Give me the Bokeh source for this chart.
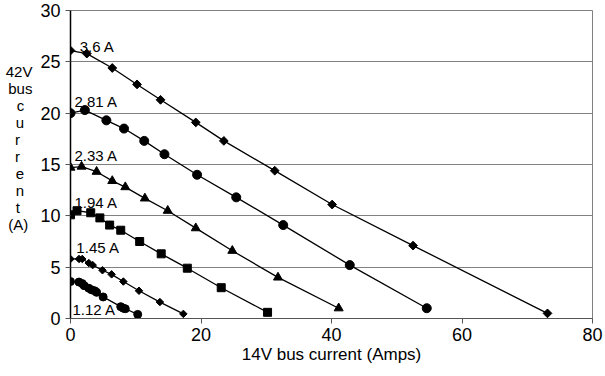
import math
from bokeh.plotting import figure
from bokeh.models import FixedTicker, ColumnDataSource
from bokeh.core.properties import value
from bokeh.embed import file_html
from bokeh.resources import INLINE

# ---- data ----
s36_x = [0, 2.5, 6.4, 10.2, 13.8, 19.2, 23.5, 31.3, 40.1, 52.5, 73.1]
s36_y = [26.1, 25.8, 24.4, 22.8, 21.3, 19.1, 17.3, 14.4, 11.1, 7.1, 0.5]

s281_x = [0, 2.2, 5.5, 8.2, 11.3, 14.4, 19.4, 25.4, 32.6, 42.8, 54.6]
s281_y = [20.0, 20.3, 19.3, 18.5, 17.3, 16.0, 14.0, 11.8, 9.1, 5.2, 1.0]

s233_x = [0, 1.7, 4.0, 6.4, 8.4, 11.4, 14.9, 19.2, 24.8, 31.8, 41.1]
s233_y = [14.7, 14.8, 14.3, 13.4, 12.8, 11.7, 10.5, 8.8, 6.6, 4.0, 1.0]

s194_x = [0, 1.0, 3.1, 4.5, 6.0, 7.7, 10.6, 13.9, 17.9, 23.1, 30.2]
s194_y = [10.1, 10.5, 10.3, 9.8, 9.1, 8.6, 7.5, 6.3, 4.9, 3.0, 0.6]

s145_x = [0, 1.3, 1.8, 2.8, 3.4, 4.9, 6.3, 8.1, 10.5, 13.7, 17.3]
s145_y = [5.8, 5.8, 5.8, 5.4, 5.2, 4.7, 4.3, 3.6, 2.7, 1.6, 0.45]

s112_x = [0, 1.3, 1.8, 2.1, 2.8, 3.2, 3.7, 4.0, 5.0, 7.7, 8.1, 8.4, 10.3]
s112_y = [3.6, 3.55, 3.4, 3.2, 2.95, 2.8, 2.7, 2.55, 2.1, 1.15, 1.0, 0.95, 0.4]

series_labels = ["3.6 A", "2.81 A", "2.33 A", "1.94 A", "1.45 A", "1.12 A"]
label_x = [1.4, 0.6, 0.6, 0.6, 0.9, 0.3]
label_y = [26.5, 21.1, 15.9, 11.3, 6.9, 0.9]

x_ticks = [0, 20, 40, 60, 80]
y_ticks = [0, 5, 10, 15, 20, 25, 30]
x_title = "14V bus current (Amps)"
y_title_lines = ["42V", "bus", "c", "u", "r", "r", "e", "n", "t", "(A)"]

FONT = "Liberation Sans"
H = 370

# approximate Arial advance widths (em) used only to centre the stacked title lines
_W = {"4": .556, "2": .556, "V": .667, "b": .556, "u": .556, "s": .5, "c": .5,
      "r": .333, "e": .556, "n": .556, "t": .278, "(": .333, "A": .667, ")": .333}
NBSP = "\u00a0"


def _pad(lines):
    # the left axis title is right-aligned by Bokeh, so pad on the right to centre
    widths = [sum(_W.get(ch, .556) for ch in s) for s in lines]
    wmax = max(widths)
    return [s + NBSP * int(round((wmax - w) / 2 / .278)) for s, w in zip(lines, widths)]


p = figure(width=604, height=H, x_range=(0, 80), y_range=(0, 30),
           output_backend="svg", toolbar_location=None,
           min_border_left=70, min_border_right=12, min_border_top=10, min_border_bottom=52)
p.background_fill_color = "white"
p.border_fill_color = "white"
p.outline_line_color = "#808080"
p.outline_line_width = 1

p.xgrid.grid_line_color = None
p.ygrid.grid_line_color = "#808080"
p.ygrid.grid_line_width = 1
p.ygrid.ticker = FixedTicker(ticks=y_ticks)

for ax in (p.xaxis[0], p.yaxis[0]):
    ax.major_label_text_font = FONT
    ax.major_label_text_font_size = "18px"
    ax.major_label_text_color = "black"
    ax.minor_tick_line_color = None
    ax.major_tick_in = 0
    ax.major_tick_out = 5

p.xaxis.ticker = FixedTicker(ticks=x_ticks)
p.yaxis.ticker = FixedTicker(ticks=y_ticks)
p.xaxis.axis_line_color = "#555555"
p.xaxis.major_tick_line_color = "#555555"
p.yaxis.axis_line_color = "black"
p.yaxis.axis_line_width = 1.5
p.yaxis.major_tick_line_color = "#555555"
p.yaxis.major_label_standoff = 5
p.xaxis.major_label_standoff = 4

p.xaxis.axis_label = x_title
p.xaxis.axis_label_text_font = FONT
p.xaxis.axis_label_text_font_size = "17px"
p.xaxis.axis_label_text_font_style = "normal"
p.xaxis.axis_label_text_color = "black"
p.xaxis.axis_label_standoff = 1

# stacked y-axis title (two trailing blank lines lift the block as in the reference)
p.yaxis.axis_label = "\n".join(_pad(y_title_lines) + [NBSP, NBSP])
p.yaxis.axis_label_orientation = "horizontal"
p.yaxis.axis_label_text_font = FONT
p.yaxis.axis_label_text_font_size = "15px"
p.yaxis.axis_label_text_font_style = "normal"
p.yaxis.axis_label_text_color = "black"
p.yaxis.axis_label_text_line_height = 1.0
p.yaxis.axis_label_standoff = 5

series = [
    (s36_x, s36_y, "square", 6.2, math.pi / 4),
    (s281_x, s281_y, "circle", 9, 0),
    (s233_x, s233_y, "triangle", 9, 0),
    (s194_x, s194_y, "square", 8, 0),
    (s145_x, s145_y, "square", 5.3, math.pi / 4),
    (s112_x, s112_y, "circle", 8, 0),
]
for xs, ys, marker, size, ang in series:
    src = ColumnDataSource(dict(x=xs, y=ys))
    p.line("x", "y", source=src, line_color="black", line_width=1.3)
    p.scatter("x", "y", source=src, marker=marker, size=size, angle=ang,
              fill_color="black", line_color="black")

lab_src = ColumnDataSource(dict(x=label_x, y=label_y, t=series_labels))
p.text("x", "y", text="t", source=lab_src, text_font=value(FONT),
       text_font_size="15px", text_color="black",
       text_baseline="alphabetic", text_align="left")

open("out.html", "w").write(file_html(p, INLINE))
